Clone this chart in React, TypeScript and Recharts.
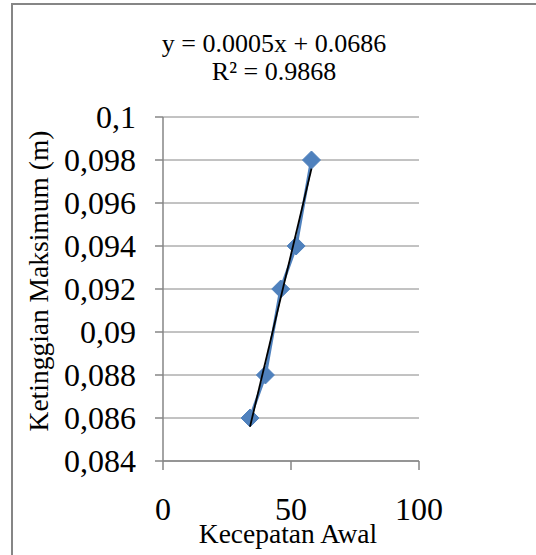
import React from 'react';
import { ScatterChart, Scatter, XAxis, YAxis, CartesianGrid, Customized } from 'recharts';

const speeds = [34, 40, 46, 52, 58];
const heights = [0.086, 0.088, 0.092, 0.094, 0.098];
const trendX = [34, 58];
const trendY = [0.0856, 0.0976];
const xTicks = [0, 50, 100];
const yTicks = [0.084, 0.086, 0.088, 0.09, 0.092, 0.094, 0.096, 0.098, 0.1];
const equationLines = ['y = 0.0005x + 0.0686', 'R² = 0.9868'];
const xTitle = 'Kecepatan Awal';
const yTitle = 'Ketinggian Maksimum (m)';

const points = speeds.map((x, i) => ({ x, y: heights[i] }));
const trend = trendX.map((x, i) => ({ x, y: trendY[i] }));

const FONT = '"Liberation Serif", "Times New Roman", serif';
const GRAY = '#868686';

const Diamond = (props: any) => {
  const { cx, cy } = props;
  if (cx == null || cy == null) return <g />;
  const r = 9;
  return (
    <polygon
      points={`${cx},${cy - r} ${cx + r},${cy} ${cx},${cy + r} ${cx - r},${cy}`}
      fill="#4F81BD"
      stroke="#4F81BD"
    />
  );
};

const NoShape = () => <g />;

const Texts = () => (
  <g style={{ fontFamily: FONT }} fill="#000">
    <text x={274} y={52} textAnchor="middle" fontSize={26} style={{ fontFamily: FONT }}>{equationLines[0]}</text>
    <text x={274} y={80} textAnchor="middle" fontSize={26} style={{ fontFamily: FONT }}>{equationLines[1]}</text>
    <text x={288} y={543} textAnchor="middle" fontSize={27.5} style={{ fontFamily: FONT }}>{xTitle}</text>
    <text
      x={0}
      y={0}
      textAnchor="middle"
      fontSize={27.5}
      style={{ fontFamily: FONT }}
      transform={`translate(48, 281) rotate(-90)`}
    >
      {yTitle}
    </text>
  </g>
);

const tickStyle = { fill: '#000', fontSize: 32, fontFamily: FONT, style: { fontFamily: FONT } } as any;

export default function App() {
  return (
    <div style={{ position: 'absolute', left: 0, top: 0, width: 536, height: 555, overflow: 'hidden', background: '#fff', fontFamily: FONT }}>
      <div
        style={{
          position: 'absolute',
          left: 11,
          top: 3,
          width: 700,
          height: 700,
          border: `2px solid ${GRAY}`,
          boxSizing: 'border-box',
        }}
      />
      <div style={{ position: 'absolute', left: 0, top: 0, fontFamily: FONT }}>
        <ScatterChart width={536} height={555} margin={{ top: 117, right: 117, bottom: 0, left: 0 }} style={{ fontFamily: FONT }}>
          <CartesianGrid horizontal vertical={false} stroke={GRAY} strokeWidth={1} />
          <XAxis
            type="number"
            dataKey="x"
            domain={[0, 100]}
            ticks={xTicks}
            height={94}
            tickSize={9}
            tickMargin={27}
            axisLine={{ stroke: GRAY, strokeWidth: 1.5 }}
            tickLine={{ stroke: GRAY, strokeWidth: 1.5 }}
            tick={tickStyle}
            allowDataOverflow
          />
          <YAxis
            type="number"
            dataKey="y"
            domain={[0.084, 0.1]}
            ticks={yTicks}
            width={163}
            tickSize={8}
            tickMargin={19}
            axisLine={{ stroke: GRAY, strokeWidth: 1.5 }}
            tickLine={{ stroke: GRAY, strokeWidth: 1.5 }}
            tick={tickStyle}
            tickFormatter={(v: number) => String(v).replace('.', ',')}
            allowDataOverflow
          />
          <Scatter
            data={points}
            line={{ stroke: '#4F81BD', strokeWidth: 3 }}
            shape={<Diamond />}
            isAnimationActive={false}
          />
          <Scatter
            data={trend}
            line={{ stroke: '#000', strokeWidth: 1.8 }}
            shape={<NoShape />}
            isAnimationActive={false}
          />
          <Customized component={Texts} />
        </ScatterChart>
      </div>
    </div>
  );
}
